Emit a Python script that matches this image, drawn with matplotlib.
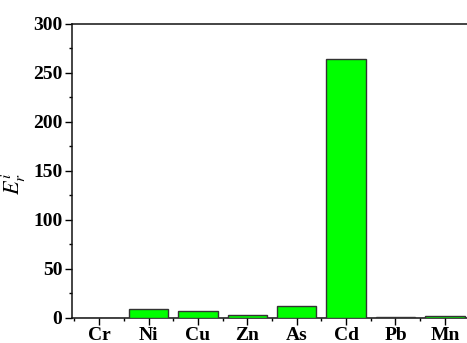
import matplotlib
matplotlib.use("Agg")
import matplotlib.pyplot as plt
from matplotlib.ticker import MultipleLocator, FixedLocator

elements = ["Cr", "Ni", "Cu", "Zn", "As", "Cd", "Pb", "Mn"]
er_values = [0.0, 8.9, 6.8, 3.0, 12.0, 264.0, 0.7, 1.2]
y_ticks = [0, 50, 100, 150, 200, 250, 300]

plt.rcParams['font.family'] = ['Liberation Serif', 'DejaVu Serif']
plt.rcParams['mathtext.fontset'] = 'stix'

fig = plt.figure(figsize=(4.67, 3.43), dpi=100)
ax = fig.add_axes([72/467, 1-317.5/343, 400/467, (317.5-24)/343])

x = list(range(len(elements)))
ax.bar(x, er_values, width=0.8, color='#00FF00', edgecolor='#333333', linewidth=1.0, zorder=3)

ax.set_xlim(-0.55, 7.55)
ax.set_ylim(0, 300)
ax.set_xticks(x)
ax.set_xticklabels(elements, fontsize=14, fontweight='bold')
ax.xaxis.set_minor_locator(FixedLocator([i + 0.5 for i in range(-1, len(elements))]))
ax.set_yticks(y_ticks)
ax.set_yticklabels([str(v) for v in y_ticks], fontsize=14, fontweight='bold')
ax.yaxis.set_minor_locator(MultipleLocator(25))

ax.tick_params(axis='both', which='major', direction='out', length=5, width=1, pad=2)
ax.tick_params(axis='both', which='minor', direction='out', length=2.5, width=1)
ax.tick_params(axis='x', which='both', top=False)
ax.tick_params(axis='y', which='both', right=False)

for s in ['left', 'bottom', 'top', 'right']:
    ax.spines[s].set_linewidth(1.1)
    ax.spines[s].set_color('#111111')

ax.set_ylabel(r'$E_r^i$', fontsize=16)
ax.yaxis.set_label_coords(-0.11, 0.455)

fig.savefig('out.png', dpi=100)
